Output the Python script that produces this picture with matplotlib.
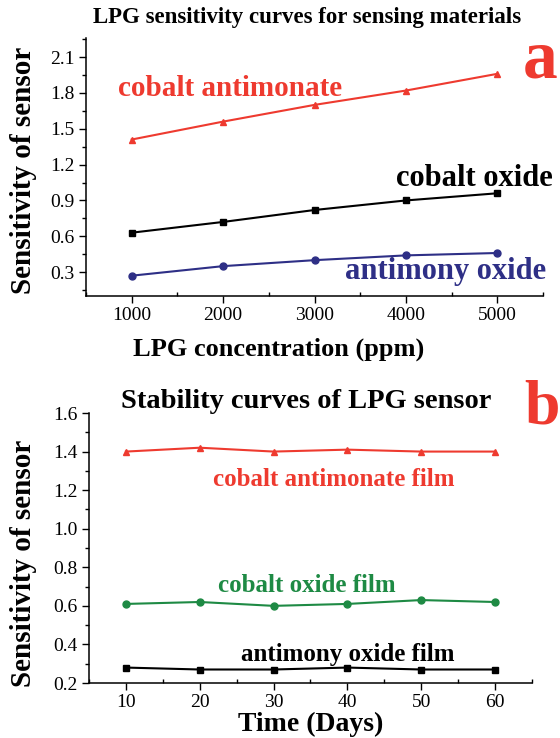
import matplotlib
matplotlib.use("Agg")
import matplotlib.pyplot as plt
from matplotlib.ticker import MultipleLocator, FormatStrFormatter

plt.rcParams['font.family'] = ['Liberation Serif', 'DejaVu Serif']

# ---- data panel a ----
conc_ppm = [1000, 2000, 3000, 4000, 5000]
cobalt_antimonate = [1.41, 1.56, 1.70, 1.82, 1.96]
cobalt_oxide = [0.63, 0.72, 0.82, 0.90, 0.96]
antimony_oxide = [0.27, 0.35, 0.40, 0.44, 0.46]

# ---- data panel b ----
days = [10, 20, 30, 40, 50, 60]
cobalt_antimonate_film = [1.40, 1.42, 1.40, 1.41, 1.40, 1.40]
cobalt_oxide_film = [0.61, 0.62, 0.60, 0.61, 0.63, 0.62]
antimony_oxide_film = [0.28, 0.27, 0.27, 0.28, 0.27, 0.27]

RED = '#ee3a2f'
NAVY = '#2e2f86'
GREEN = '#1e8a44'
BLACK = '#000000'

W, H = 560, 738
fig = plt.figure(figsize=(W / 100, H / 100), dpi=100)


def px(x, y):
    return x / W, 1 - y / H


def style_axes(ax):
    ax.spines['top'].set_visible(False)
    ax.spines['right'].set_visible(False)
    for s in ('left', 'bottom'):
        ax.spines[s].set_linewidth(1.1)
    ax.tick_params(which='major', direction='out', length=5, width=1.0,
                   labelsize=14)
    ax.tick_params(which='minor', direction='out', length=3, width=1.0)
    ax.tick_params(axis='x', which='minor', direction='in')
    ax.tick_params(axis='y', pad=3)
    ax.tick_params(axis='x', pad=3)


# ---------- panel a ----------
ax1 = fig.add_axes([86 / W, 1 - 296 / H, (543 - 86) / W, (296 - 38) / H])
style_axes(ax1)
ax1.plot(conc_ppm, cobalt_antimonate, color=RED, marker='^', ms=5, lw=1.5)
ax1.plot(conc_ppm, cobalt_oxide, color=BLACK, marker='s', ms=4.5, lw=1.5)
ax1.plot(conc_ppm, antimony_oxide, color=NAVY, marker='o', ms=5, lw=1.5)
ax1.set_xlim(500, 5500)
ax1.set_ylim(0.1, 2.26)
ax1.xaxis.set_major_locator(MultipleLocator(1000))
ax1.xaxis.set_minor_locator(MultipleLocator(500))
ax1.yaxis.set_major_locator(MultipleLocator(0.3))
ax1.yaxis.set_minor_locator(MultipleLocator(0.15))
ax1.yaxis.set_major_formatter(FormatStrFormatter('%.1f'))
ax1.set_yticks([0.3, 0.6, 0.9, 1.2, 1.5, 1.8, 2.1])

fig.text(*px(307, 17), 'LPG sensitivity curves for sensing materials',
         fontsize=16.5, fontweight='bold', ha='center', va='center')
fig.text(*px(540, 60), 'a', fontsize=50, fontweight='bold', color=RED,
         ha='center', va='center')
fig.text(*px(230, 88), 'cobalt antimonate', fontsize=21, fontweight='bold',
         color=RED, ha='center', va='center')
fig.text(*px(474, 179), 'cobalt oxide', fontsize=22, fontweight='bold',
         color=BLACK, ha='center', va='center')
fig.text(*px(446, 272), 'antimony oxide', fontsize=22, fontweight='bold',
         color=NAVY, ha='center', va='center')
fig.text(*px(279, 349), 'LPG concentration (ppm)', fontsize=19,
         fontweight='bold', ha='center', va='center')
fig.text(*px(24, 170), 'Sensitivity of sensor', fontsize=21,
         fontweight='bold', rotation=90, ha='center', va='center')

# ---------- panel b ----------
ax2 = fig.add_axes([89 / W, 1 - 683 / H, (532 - 89) / W, (683 - 413) / H])
style_axes(ax2)
ax2.plot(days, cobalt_antimonate_film, color=RED, marker='^', ms=5, lw=1.5)
ax2.plot(days, cobalt_oxide_film, color=GREEN, marker='o', ms=5, lw=1.5)
ax2.plot(days, antimony_oxide_film, color=BLACK, marker='s', ms=4.5, lw=1.5)
ax2.set_xlim(5, 65)
ax2.set_ylim(0.2, 1.6)
ax2.xaxis.set_major_locator(MultipleLocator(10))
ax2.xaxis.set_minor_locator(MultipleLocator(5))
ax2.yaxis.set_major_locator(MultipleLocator(0.2))
ax2.yaxis.set_minor_locator(MultipleLocator(0.1))
ax2.yaxis.set_major_formatter(FormatStrFormatter('%.1f'))

fig.text(*px(306, 401), 'Stability curves of LPG sensor', fontsize=20.5,
         fontweight='bold', ha='center', va='center')
fig.text(*px(542, 408), 'b', fontsize=46, fontweight='bold', color=RED,
         ha='center', va='center')
fig.text(*px(334, 480), 'cobalt antimonate film', fontsize=18,
         fontweight='bold', color=RED, ha='center', va='center')
fig.text(*px(307, 586), 'cobalt oxide film', fontsize=18,
         fontweight='bold', color=GREEN, ha='center', va='center')
fig.text(*px(348, 655), 'antimony oxide film', fontsize=18,
         fontweight='bold', color=BLACK, ha='center', va='center')
fig.text(*px(311, 737), 'Time (Days)', fontsize=20, fontweight='bold',
         ha='center', va='bottom')
fig.text(*px(24, 563), 'Sensitivity of sensor', fontsize=21,
         fontweight='bold', rotation=90, ha='center', va='center')

fig.savefig('out.png', dpi=100)
